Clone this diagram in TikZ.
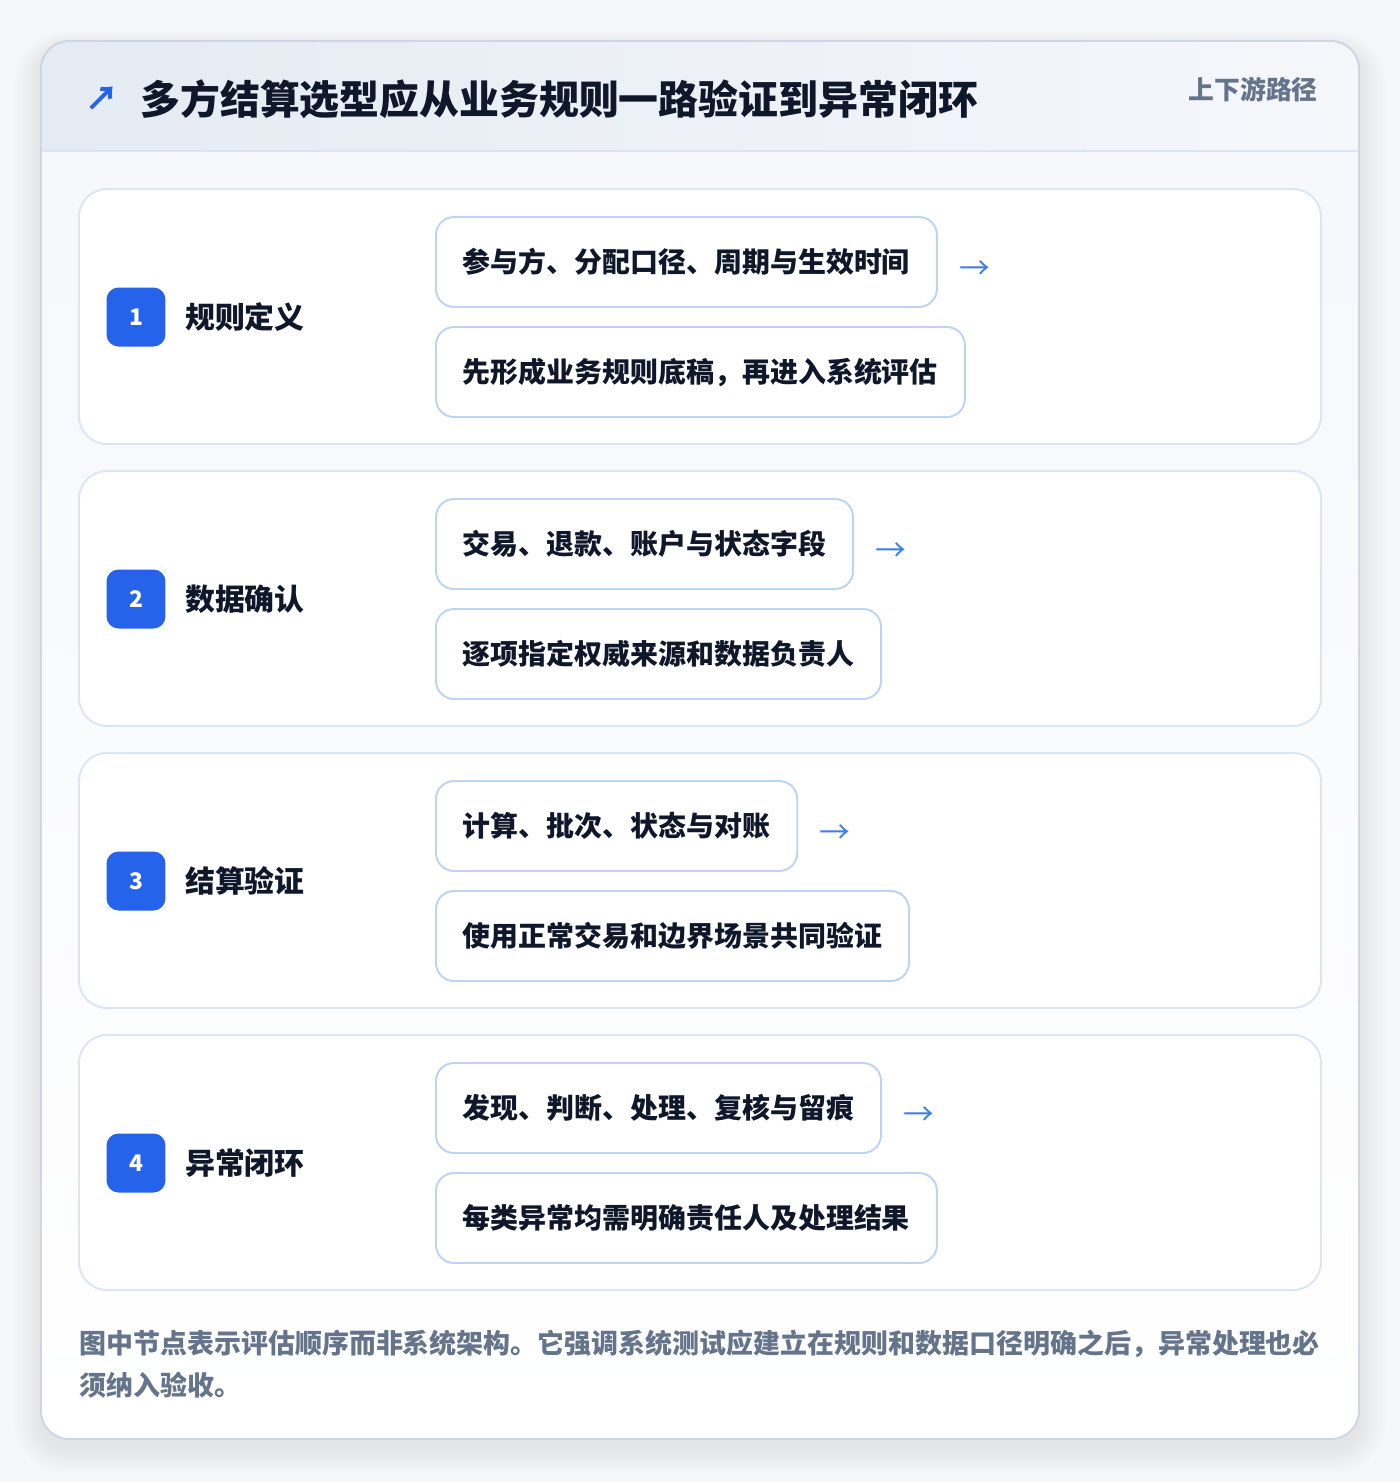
\documentclass[tikz,border=0pt]{standalone}
\usepackage{fontspec}
\setmainfont{Noto Sans CJK SC}
\usetikzlibrary{positioning}

\definecolor{pagebg}{HTML}{F6F7F9}
\definecolor{cardline}{HTML}{CDD6E2}
\definecolor{hdleft}{HTML}{E5EBF3}
\definecolor{hdright}{HTML}{F5F7FB}
\definecolor{hdline}{HTML}{D9E5F5}
\definecolor{panelline}{HTML}{DAE6F6}
\definecolor{pillline}{HTML}{BCD3F2}
\definecolor{badgeblue}{HTML}{2563EB}
\definecolor{arrowblue}{HTML}{3F80E6}
\definecolor{inktext}{HTML}{0F172A}
\definecolor{slatetext}{HTML}{64748B}

\tikzset{
	panel/.style={draw=panelline, line width=1.1pt, fill=white, rounded corners=0.56cm},
	pill/.style={draw=pillline, line width=1.1pt, fill=white, rounded corners=0.36cm,
		minimum height=1.8cm, inner xsep=0.54cm, inner ysep=0pt, anchor=west,
		text=inktext, font=\fontsize{15.9}{18}\selectfont\bfseries},
	badge/.style={fill=badgeblue, rounded corners=0.24cm, minimum size=1.18cm, inner sep=0pt,
		text=white, font=\fontsize{13}{15}\selectfont\bfseries},
	steplabel/.style={inner sep=0pt, text=inktext, font=\fontsize{17}{20}\selectfont\bfseries},
	nextmark/.style={inner sep=0pt, text=arrowblue, font=\fontsize{17.5}{18}\selectfont}
}

\begin{document}
\begin{tikzpicture}[x=0.02cm, y=-0.02cm]
	\useasboundingbox (0,0) rectangle (1400,1482);
	\fill[pagebg] (0,0) rectangle (1400,1482);
	\foreach \s in {1,...,9}
		\fill[black, opacity=0.009, rounded corners=0.56cm+\s*0.06cm]
			(41-\s*3,41-\s*2+8) rectangle (1359+\s*3,1439+\s*3+8);
	\shade[top color=hdright, bottom color=white, rounded corners=0.56cm] (41,41) rectangle (1359,1439);
	\begin{scope}
		\clip[rounded corners=0.56cm] (41,41) rectangle (1359,1439);
		\shade[left color=hdleft, right color=hdright] (41,41) rectangle (1359,151);
	\end{scope}
	\draw[hdline, line width=1.1pt] (41,151) -- (1359,151);
	\draw[cardline, line width=1.1pt, rounded corners=0.56cm] (41,41) rectangle (1359,1439);

	\node[text=badgeblue, inner sep=0pt, font=\fontsize{19}{20}\selectfont\bfseries] (icon) at (102,99) {↗};
	\node[anchor=west, inner sep=0pt, text=inktext, font=\fontsize{22.7}{26}\selectfont\bfseries] (title) at (140,99) {多方结算选型应从业务规则一路验证到异常闭环};
	\node[anchor=east, inner sep=0pt, text=slatetext, font=\fontsize{14.7}{17}\selectfont\bfseries] (tag) at (1318,90) {上下游路径};

	\draw[panel] (79,189) rectangle (1321,444);
	\node[badge] (b1) at (136,317) {1};
	\node[steplabel, anchor=west, right=0.38cm of b1] (l1) {规则定义};
	\node[pill] (p1a) at (435,262) {参与方、分配口径、周期与生效时间};
	\node[pill] (p1b) at (435,372) {先形成业务规则底稿，再进入系统评估};
	\node[nextmark, right=0.42cm of p1a, yshift=-0.17cm] (n1) {→};

	\draw[panel] (79,471) rectangle (1321,726);
	\node[badge] (b2) at (136,599) {2};
	\node[steplabel, anchor=west, right=0.38cm of b2] (l2) {数据确认};
	\node[pill] (p2a) at (435,544) {交易、退款、账户与状态字段};
	\node[pill] (p2b) at (435,654) {逐项指定权威来源和数据负责人};
	\node[nextmark, right=0.42cm of p2a, yshift=-0.17cm] (n2) {→};

	\draw[panel] (79,753) rectangle (1321,1008);
	\node[badge] (b3) at (136,881) {3};
	\node[steplabel, anchor=west, right=0.38cm of b3] (l3) {结算验证};
	\node[pill] (p3a) at (435,826) {计算、批次、状态与对账};
	\node[pill] (p3b) at (435,936) {使用正常交易和边界场景共同验证};
	\node[nextmark, right=0.42cm of p3a, yshift=-0.17cm] (n3) {→};

	\draw[panel] (79,1035) rectangle (1321,1290);
	\node[badge] (b4) at (136,1163) {4};
	\node[steplabel, anchor=west, right=0.38cm of b4] (l4) {异常闭环};
	\node[pill] (p4a) at (435,1108) {发现、判断、处理、复核与留痕};
	\node[pill] (p4b) at (435,1218) {每类异常均需明确责任人及处理结果};
	\node[nextmark, right=0.42cm of p4a, yshift=-0.17cm] (n4) {→};

	\node[anchor=base west, inner sep=0pt, align=left, text=slatetext,
		font=\fontsize{15.35}{23.8}\selectfont\bfseries] (note) at (79,1395)
		{图中节点表示评估顺序而非系统架构。它强调系统测试应建立在规则和数据口径明确之后，异常处理也必\\须纳入验收。};
\end{tikzpicture}
\end{document}
